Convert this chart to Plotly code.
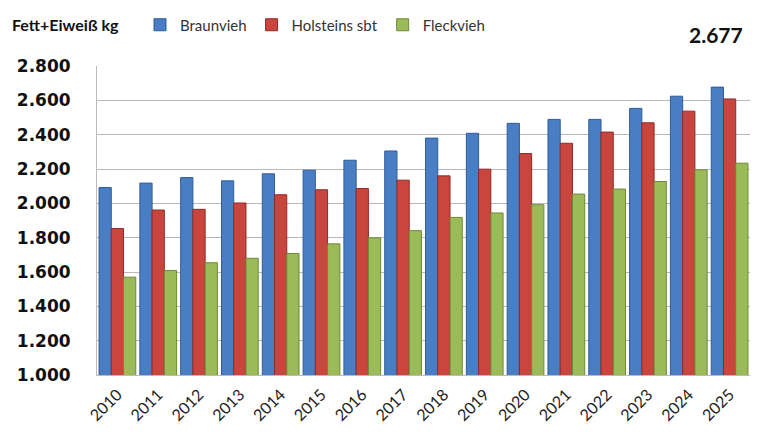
import plotly.graph_objects as go

years = [str(y) for y in range(2010, 2026)]
braunvieh = [2092, 2118, 2150, 2131, 2172, 2193, 2251, 2305, 2380, 2408, 2466, 2489, 2489, 2553, 2624, 2677]
holsteins = [1853, 1961, 1965, 2002, 2050, 2079, 2086, 2135, 2160, 2199, 2290, 2350, 2415, 2469, 2537, 2608]
fleckvieh = [1570, 1609, 1654, 1680, 1708, 1764, 1799, 1841, 1918, 1944, 1992, 2054, 2083, 2127, 2195, 2234]
series_names = ["Braunvieh", "Holsteins sbt", "Fleckvieh"]
y_ticks = [1000, 1200, 1400, 1600, 1800, 2000, 2200, 2400, 2600, 2800]
y_tick_labels = ["1.000", "1.200", "1.400", "1.600", "1.800", "2.000", "2.200", "2.400", "2.600", "2.800"]

colors = ["#4A7EC4", "#C9463F", "#9BBB59"]
edges = ["#2F5D97", "#8E2B27", "#6E8A35"]

W, H, L, R, T, B = 763, 440, 97, 13, 66, 65
PW, PH = W - L - R, H - T - B

fig = go.Figure()
for name, vals, c, e in zip(series_names, [braunvieh, holsteins, fleckvieh], colors, edges):
    fig.add_trace(go.Bar(
        x=years, y=vals, name=name,
        marker=dict(color=c, line=dict(color=e, width=1)),
    ))

# label on the last Braunvieh bar (category index of the last year)
fig.add_annotation(
    x=len(years) - 1, xref="x", y=braunvieh[-1], yref="y", text="<b>2.677</b>", showarrow=False,
    yanchor="bottom", yshift=38, xshift=-14,
    font=dict(size=21, color="#111111", family="Lato"),
)
fig.add_annotation(
    x=(10 - L) / PW, xref="paper", y=1 + (T - 25) / PH, yref="paper", text="<b>Fett+Eiweiß kg</b>",
    showarrow=False, xanchor="left", yanchor="middle",
    font=dict(size=16, color="#111111", family="Lato"),
)

fig.update_layout(
    width=W, height=H,
    margin=dict(l=L, r=R, t=T, b=B, autoexpand=False),
    paper_bgcolor="white", plot_bgcolor="white",
    barmode="group", bargap=0.1, bargroupgap=0.0,
    font=dict(family="Lato", color="#111111"),
    legend=dict(orientation="h", xref="container", yref="container",
                x=140 / W, y=1 - 25 / H, xanchor="left", yanchor="middle",
                font=dict(size=15, color="#333333"), itemwidth=30,
                bgcolor="rgba(0,0,0,0)"),
    xaxis=dict(type="category", categoryorder="array", categoryarray=years,
               range=[-0.5, len(years) - 0.5],
               tickangle=-45,
               tickfont=dict(size=16, color="#222222", family="Lato"),
               showline=True, linecolor="#BBBBBB", ticks="outside", ticklen=3,
               tickcolor="rgba(0,0,0,0)"),
    yaxis=dict(range=[1000, 2800], tickvals=y_ticks, ticktext=y_tick_labels,
               tickfont=dict(size=17, color="#111111", family="DejaVu Sans", weight="bold"),
               showgrid=True, gridcolor="#B8B8B8", gridwidth=1,
               showline=True, linecolor="#BBBBBB",
               ticks="outside", ticklen=22, tickcolor="rgba(0,0,0,0)",
               zeroline=False),
)

fig.write_html("out.html", post_script="document.body.style.margin='0';",
               config={"displayModeBar": False})
